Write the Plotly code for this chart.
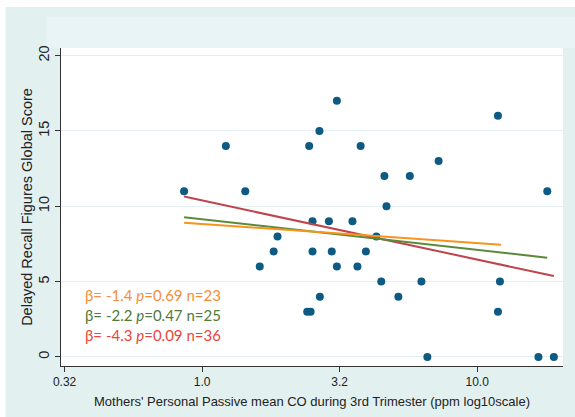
import plotly.graph_objects as go

# ---- data ----
co_ppm = [0.86, 1.22, 1.435, 1.62, 1.82, 1.88, 2.41, 2.48, 2.45, 2.52, 2.52, 2.67,
          2.68, 2.89, 2.96, 3.09, 3.09, 3.52, 3.67, 3.77, 3.94, 4.30, 4.48, 4.60,
          4.68, 5.17, 5.69, 6.27, 6.59, 7.24, 11.9, 12.1, 11.9, 16.7, 17.98, 19.0]
recall_score = [11, 14, 11, 6, 7, 8, 3, 3, 14, 9, 7, 15,
                4, 9, 7, 17, 6, 9, 6, 14, 7, 8, 5, 12,
                10, 4, 12, 5, 0, 13, 16, 5, 3, 0, 11, 0]

# fitted lines (start/end of each regression line)
fit_names = ["n=36", "n=25", "n=23"]
fit_x_start = [0.86, 0.86, 0.86]
fit_x_end = [19.0, 17.98, 12.2]
fit_y_start = [10.64, 9.27, 8.91]
fit_y_end = [5.37, 6.59, 7.45]
fit_colors = ["#c0444c", "#5b8a3c", "#f7941d"]

labels = ["β= -1.4 <i>p</i>=0.69 n=23",
          "β= -2.2 <i>p</i>=0.47 n=25",
          "β= -4.3 <i>p</i>=0.09 n=36"]
label_colors = ["#f58d3a", "#4e7a3a", "#e8463a"]

x_tickvals = [10 ** -0.5, 1.0, 10 ** 0.5, 10.0]
x_ticktext = ["0.32", "1.0", "3.2", "10.0"]
y_tickvals = [0, 5, 10, 15, 20]

W, H = 575, 417
L, R, T, B = 60.5, 12, 48, 51

fig = go.Figure()
fig.add_trace(go.Scatter(x=co_ppm, y=recall_score, mode="markers",
                         marker=dict(color="#0d5b82", size=8, line=dict(width=0)),
                         showlegend=False, hoverinfo="x+y"))
for i in range(len(fit_names)):
    fig.add_trace(go.Scatter(x=[fit_x_start[i], fit_x_end[i]],
                             y=[fit_y_start[i], fit_y_end[i]],
                             mode="lines", line=dict(color=fit_colors[i], width=2),
                             name=fit_names[i], showlegend=False))

pw = W - L - R
ph = H - T - B

def px_x(p):
    return (p - L) / pw

def px_y(p):
    return (H - B - p) / ph

shapes = [
    dict(type="rect", xref="paper", yref="paper", x0=px_x(5), x1=px_x(W), y0=px_y(417), y1=px_y(7),
         fillcolor="#e2f0f0", line=dict(width=0), layer="below"),
    dict(type="rect", xref="paper", yref="paper", x0=px_x(46), x1=px_x(W), y0=px_y(48), y1=px_y(17),
         fillcolor="#e8f4f5", line=dict(width=0), layer="below"),
    dict(type="rect", xref="paper", yref="paper", x0=0, x1=px_x(563), y0=0, y1=1,
         fillcolor="white", line=dict(width=0), layer="below"),
    dict(type="rect", xref="paper", yref="paper", x0=px_x(62), x1=px_x(239), y0=px_y(365), y1=px_y(276),
         fillcolor="white", line=dict(width=0), layer="between"),
]

annotations = []
line_y = [295, 315, 335]
for i, t in enumerate(labels):
    annotations.append(dict(text=t, xref="paper", yref="paper", x=px_x(83), y=px_y(line_y[i]),
                            xanchor="left", yanchor="middle", showarrow=False,
                            font=dict(family="Lato", size=15, color=label_colors[i])))

fig.update_layout(
    width=W, height=H,
    margin=dict(l=L, r=R, t=T, b=B),
    paper_bgcolor="white",
    plot_bgcolor="rgba(0,0,0,0)",
    shapes=shapes,
    annotations=annotations,
    font=dict(family="Liberation Sans, Arial", size=13, color="#222222"),
    xaxis=dict(type="log", range=[-0.513, 1.312], tickvals=x_tickvals, ticktext=x_ticktext,
               showgrid=False, zeroline=False, showline=True, linecolor="#333333", linewidth=1,
               ticks="outside", ticklen=5, tickcolor="#333333", automargin=False,
               tickfont=dict(size=12),
               title=dict(text="Mothers' Personal Passive mean CO during 3rd Trimester (ppm log10scale)",
                          standoff=8, font=dict(size=13))),
    yaxis=dict(range=[-0.6, 20.5], tickvals=y_tickvals, tickangle=-90,
               showgrid=True, gridcolor="#e4eff1", gridwidth=1, zeroline=False,
               showline=True, linecolor="#333333", linewidth=1,
               ticks="outside", ticklen=5, tickcolor="#333333", automargin=False,
               tickfont=dict(size=14.5), ticklabelstandoff=0,
               title=dict(text="Delayed Recall Figures Global Score", standoff=0, font=dict(size=14.5))),
)

fig.write_html("out.html", config={"displayModeBar": False},
               post_script="document.body.style.margin='0';")
